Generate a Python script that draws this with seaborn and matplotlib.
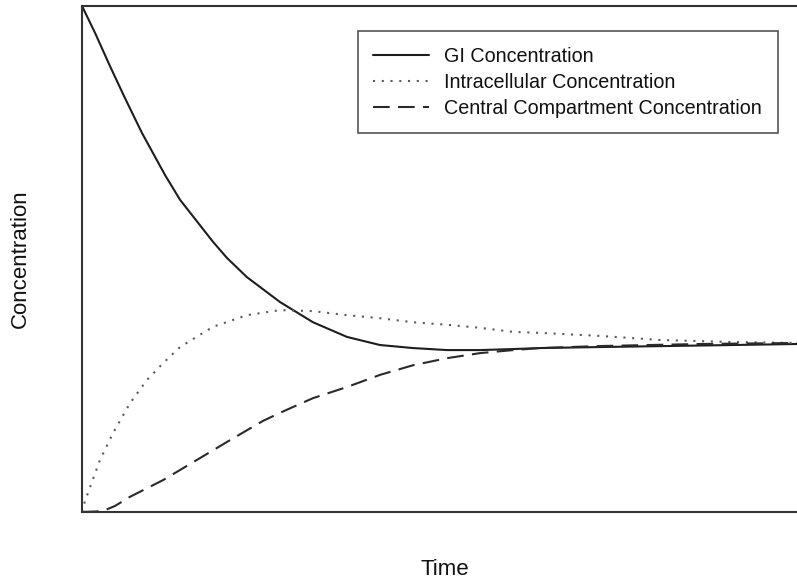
import matplotlib
matplotlib.use("Agg")
import matplotlib.pyplot as plt
import seaborn as sns
import pandas as pd

# Concentration-time profiles (arbitrary units)
gi_time = [0.0, 0.182, 0.392, 0.601, 0.839, 1.161, 1.371, 1.832, 2.028, 2.308, 2.769,
           3.231, 3.706, 4.168, 4.629, 5.105, 5.566, 6.028, 6.406, 7.245, 8.643, 10.0]
gi_conc = [1.000, 0.947, 0.881, 0.818, 0.749, 0.666, 0.617, 0.534, 0.502, 0.464, 0.415,
           0.375, 0.346, 0.330, 0.324, 0.320, 0.320, 0.322, 0.324, 0.326, 0.329, 0.332]

intra_time = [0.0, 0.014, 0.112, 0.252, 0.434, 0.671, 0.909, 1.133, 1.371, 1.832, 2.308,
              2.769, 3.231, 3.706, 4.168, 4.629, 5.105, 5.566, 6.028, 6.406, 7.245,
              8.08, 9.06, 10.0]
intra_conc = [0.000, 0.010, 0.049, 0.103, 0.156, 0.215, 0.261, 0.294, 0.326, 0.366, 0.389,
              0.399, 0.397, 0.389, 0.383, 0.375, 0.370, 0.364, 0.356, 0.354, 0.348,
              0.340, 0.336, 0.334]

central_time = [0.0, 0.182, 0.294, 0.462, 0.671, 1.133, 1.608, 2.070, 2.531, 2.769, 3.007,
                3.231, 3.706, 4.168, 4.629, 5.105, 5.566, 6.028, 6.406, 7.245, 8.643, 10.0]
central_conc = [0.000, 0.001, 0.002, 0.012, 0.030, 0.063, 0.103, 0.142, 0.180, 0.196, 0.211,
                0.225, 0.247, 0.271, 0.290, 0.304, 0.314, 0.320, 0.324, 0.328, 0.332, 0.334]

series_names = ["GI Concentration", "Intracellular Concentration",
                "Central Compartment Concentration"]

df = pd.concat([
    pd.DataFrame({"time": gi_time, "conc": gi_conc, "series": series_names[0]}),
    pd.DataFrame({"time": intra_time, "conc": intra_conc, "series": series_names[1]}),
    pd.DataFrame({"time": central_time, "conc": central_conc, "series": series_names[2]}),
], ignore_index=True)

sns.set_style("white")
plt.rcParams["font.family"] = ["Liberation Sans", "DejaVu Sans"]

fig = plt.figure(figsize=(7.97, 5.88), dpi=100)
ax = fig.add_axes([82 / 797, 76 / 588, 725 / 797, 506 / 588])

palette = {series_names[0]: "#1e1e1e",
           series_names[1]: "#5a5a5a",
           series_names[2]: "#2a2a2a"}
dash_map = {series_names[0]: "",
            series_names[1]: (1, 3.2),
            series_names[2]: (8, 4)}

sns.lineplot(data=df, x="time", y="conc", hue="series", style="series",
             palette=palette, dashes=dash_map, estimator=None, sort=False,
             linewidth=1.5, ax=ax, legend=True)
for line in ax.get_lines():
    line.set_solid_joinstyle("round")
    line.set_dash_joinstyle("round")

ax.set_xlim(0, 10.14)
ax.set_ylim(0, 1.0)
ax.set_xticks([])
ax.set_yticks([])

for side in ["left", "bottom", "top"]:
    ax.spines[side].set_color("#333333")
    ax.spines[side].set_linewidth(1.5)
ax.spines["right"].set_visible(False)

ax.set_xlabel("Time", fontsize=16, labelpad=34, color="#111111")
ax.set_ylabel("Concentration", fontsize=16, labelpad=37, color="#111111")

handles, labels = ax.get_legend_handles_labels()
leg = ax.legend(handles, labels, loc="upper right",
                bbox_to_anchor=((778 - 82) / 725, (512 - 31) / 506),
                fontsize=14.2, frameon=True, fancybox=False, framealpha=1,
                handlelength=2.8, handletextpad=0.8, labelspacing=0.35,
                borderpad=0.8, borderaxespad=0)
leg.get_frame().set_edgecolor("#555555")
leg.get_frame().set_linewidth(1.2)
for t in leg.get_texts():
    t.set_color("#111111")

fig.savefig("out.png", dpi=100)
